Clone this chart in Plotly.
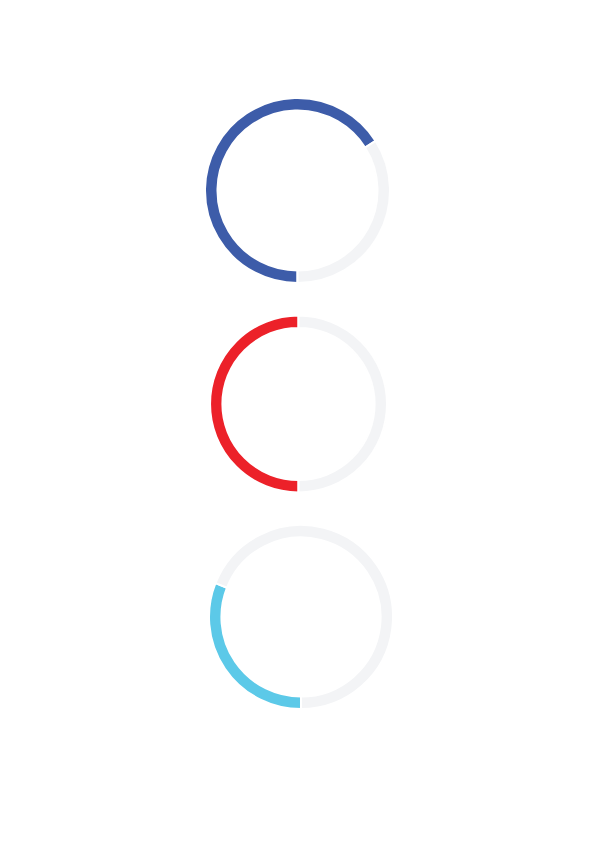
import plotly.graph_objects as go

labels = ["Value", "Remainder"]
blue_values = [66, 34]
red_values = [50, 50]
cyan_values = [31, 69]

blue_colors = ["#3D5CA9", "#F3F4F6"]
red_colors = ["#EC2129", "#F3F4F6"]
cyan_colors = ["#5CC9E8", "#F3F4F6"]

W, H = 595, 842
OFF = 8  # page body margin

def dom(cx, cy, r):
    cx -= OFF
    cy -= OFF
    return dict(x=[(cx - r) / W, (cx + r) / W], y=[1 - (cy + r) / H, 1 - (cy - r) / H])

rings = [
    (blue_values, blue_colors, dom(297.5, 190.5, 92.5), 0.865),
    (red_values, red_colors, dom(298.5, 404, 88.5), 0.86),
    (cyan_values, cyan_colors, dom(301, 617, 92), 0.865),
]

fig = go.Figure()
for vals, cols, d, hole in rings:
    fig.add_trace(go.Pie(
        labels=labels, values=vals, sort=False, direction="clockwise", rotation=180,
        hole=hole, domain=d, textinfo="none", hoverinfo="none", showlegend=False,
        marker=dict(colors=cols, line=dict(color="white", width=2)),
    ))

fig.update_layout(width=W, height=H, margin=dict(l=0, r=0, t=0, b=0),
                  paper_bgcolor="white", plot_bgcolor="white")
fig.write_html("out.html")
